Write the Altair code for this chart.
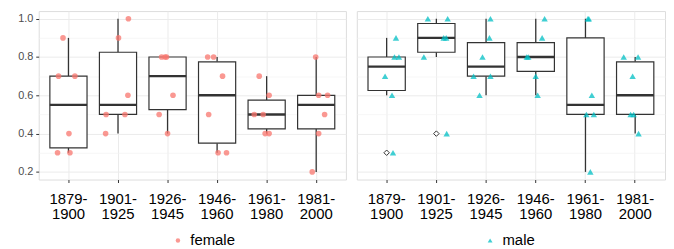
import altair as alt
import pandas as pd

periods = ["1879-1900", "1901-1925", "1926-1945", "1946-1960", "1961-1980", "1981-2000"]

female_values = [
    [0.9, 0.7, 0.7, 0.4, 0.3, 0.3],
    [1.0, 0.9, 0.6, 0.5, 0.5, 0.4],
    [0.8, 0.8, 0.8, 0.6, 0.5, 0.4],
    [0.8, 0.8, 0.7, 0.5, 0.3, 0.3],
    [0.7, 0.6, 0.5, 0.5, 0.4, 0.4],
    [0.8, 0.6, 0.6, 0.5, 0.4, 0.2],
]
female_jitter = [
    [-0.11, -0.20, 0.13, 0.01, -0.22, 0.03],
    [0.21, 0.01, 0.20, -0.24, 0.14, -0.25],
    [-0.12, -0.05, -0.02, 0.11, -0.17, 0.00],
    [-0.19, -0.07, 0.11, -0.17, 0.02, 0.19],
    [-0.15, 0.05, -0.25, -0.07, -0.03, 0.05],
    [-0.01, 0.05, 0.23, 0.17, 0.05, -0.08],
]
male_values = [
    [0.9, 0.8, 0.8, 0.7, 0.6, 0.3],
    [1.0, 1.0, 0.9, 0.9, 0.8, 0.4],
    [1.0, 0.9, 0.8, 0.7, 0.7, 0.6],
    [1.0, 0.9, 0.8, 0.8, 0.7, 0.6],
    [1.0, 1.0, 0.6, 0.5, 0.5, 0.2],
    [0.8, 0.8, 0.7, 0.5, 0.5, 0.4],
]
male_jitter = [
    [0.19, 0.16, 0.25, -0.03, 0.11, 0.13],
    [-0.17, 0.23, 0.15, 0.20, -0.25, 0.21],
    [0.09, 0.07, -0.07, -0.25, 0.09, -0.13],
    [0.18, 0.13, -0.18, -0.15, 0.00, 0.04],
    [0.05, 0.07, 0.13, 0.02, 0.17, 0.10],
    [-0.23, 0.06, -0.05, -0.09, -0.03, 0.07],
]

y_ticks = [0.2, 0.3, 0.4, 0.5, 0.6, 0.7, 0.8, 0.9, 1.0]


def make_df(sex, values, jitter):
    rows = []
    for p, vals, jits in zip(periods, values, jitter):
        for v, j in zip(vals, jits):
            rows.append({"period": p, "value": v, "jitter": j, "sex": sex})
    return pd.DataFrame(rows)


MAJOR = "round(datum.value*10) % 2 == 0"
DARK = "#333333"


def panel(df, sex, color, shape, psize, width, show_y, legend_x, legend_size):
    step = width / 6.2
    xenc = alt.X(
        "period:N",
        sort=periods,
        scale=alt.Scale(domain=periods, paddingInner=0, paddingOuter=0.1),
        axis=alt.Axis(
            title=None, labelAngle=0,
            labelExpr="[slice(datum.label,0,5), slice(datum.label,5)]",
            labelFontSize=15, labelColor="black", labelLineHeight=15,
            tickSize=3, tickColor=DARK, domain=False, grid=True,
            gridColor="#EBEBEB", gridWidth=1, labelPadding=9, bandPosition=0.5,
        ),
    )
    if show_y:
        yaxis = alt.Axis(
            title=None, values=y_ticks, domain=False, grid=True,
            gridColor={"condition": {"test": MAJOR, "value": "#EBEBEB"}, "value": "#F3F3F3"},
            gridWidth={"condition": {"test": MAJOR, "value": 1}, "value": 0.7},
            labelExpr=MAJOR + " ? format(datum.value, '.1f') : ''",
            tickOpacity={"condition": {"test": MAJOR, "value": 1}, "value": 0},
            tickSize=3, tickColor=DARK, labelFontSize=11, labelColor="#4D4D4D",
            labelPadding=3, minExtent=30, maxExtent=30,
        )
    else:
        yaxis = alt.Axis(
            title=None, values=y_ticks, domain=False, grid=True, labels=False, ticks=False,
            gridColor={"condition": {"test": MAJOR, "value": "#EBEBEB"}, "value": "#F3F3F3"},
            gridWidth={"condition": {"test": MAJOR, "value": 1}, "value": 0.7},
            minExtent=0, maxExtent=0,
        )
    yenc = alt.Y("value:Q", scale=alt.Scale(domain=[0.16, 1.04], nice=False, zero=False), axis=yaxis)
    base = alt.Chart(df)
    box = base.mark_boxplot(
        size=step * 0.75,
        extent=1.5,
        ticks=False,
        box={"fill": "white", "stroke": DARK, "strokeWidth": 1.2, "opacity": 1},
        median={"color": DARK, "thickness": 2.4, "opacity": 1},
        rule={"color": DARK, "strokeWidth": 1.3, "opacity": 1},
        outliers={"shape": "diamond", "filled": True, "fill": "white", "stroke": DARK,
                  "strokeWidth": 1, "size": 30, "opacity": 1},
    ).encode(x=xenc, y=yenc)
    pts = base.mark_point(filled=True, size=psize, opacity=0.75, shape=shape).encode(
        x=xenc,
        xOffset=alt.XOffset("jitter:Q", scale=alt.Scale(domain=[-0.5, 0.5], range=[0, step])),
        y=yenc,
        color=alt.Color(
            "sex:N",
            scale=alt.Scale(domain=[sex], range=[color]),
            legend=alt.Legend(
                title=None, orient="none", legendX=legend_x, legendY=224,
                symbolType=shape, symbolSize=legend_size, symbolOpacity=0.75,
                labelFontSize=15, labelColor="black", labelOffset=5,
            ),
        ),
    )
    return alt.layer(box, pts).properties(width=width, height=170)


left = panel(make_df("female", female_values, female_jitter), "female", "#F8766D", "circle", 32,
             310, True, 133, 20)
right = panel(make_df("male", male_values, male_jitter), "male", "#00BFC4", "triangle-up", 42,
              311, False, 127, 24)

chart = alt.hconcat(left, right, spacing=9).resolve_scale(color="independent").properties(
    padding={"left": 0, "top": 1, "right": 0, "bottom": 0}
).configure_view(stroke=DARK, strokeWidth=1).configure(font="Liberation Sans")

chart.save("out.html", embed_options={"renderer": "svg", "actions": False})
